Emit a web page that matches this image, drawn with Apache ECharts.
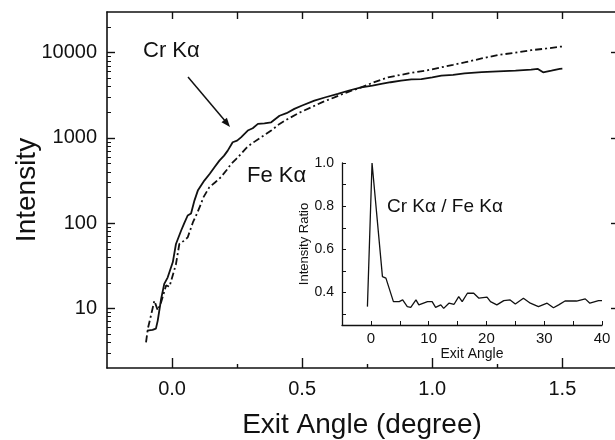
<!DOCTYPE html>
<html>
<head>
<meta charset="utf-8">
<title>Exit angle intensity</title>
<script src="https://cdn.jsdelivr.net/npm/echarts@6.0.0/dist/echarts.min.js"></script>
<style>
    html, body { margin: 0; padding: 0; background: #fff; }
    #chart { width: 615px; height: 440px; }
</style>
</head>
<body>
<div id="chart"></div>
<script>
// Cr K-alpha intensity vs exit angle (solid)
var crAngle = [-0.096, -0.075, -0.062, -0.055, -0.042, -0.03, -0.017, 0.003, 0.015, 0.035,
    0.047, 0.06, 0.073, 0.086, 0.099, 0.124, 0.145, 0.163, 0.182, 0.2,
    0.214, 0.233, 0.25, 0.265, 0.291, 0.31, 0.33, 0.355, 0.381, 0.413,
    0.44, 0.47, 0.5, 0.547, 0.59, 0.637, 0.68, 0.727, 0.77, 0.804,
    0.84, 0.88, 0.92, 0.958, 1.0, 1.035, 1.08, 1.124, 1.19, 1.253,
    1.32, 1.38, 1.406, 1.426, 1.458, 1.49, 1.5];
var crIntensity = [5.5, 5.6, 5.8, 7.2, 12.9, 19.4, 23, 35, 57, 82,
    100, 123, 130, 184, 241, 316, 380, 452, 542, 620,
    710, 890, 930, 1016, 1220, 1300, 1460, 1480, 1525, 1820,
    1950, 2190, 2400, 2740, 3000, 3280, 3600, 3920, 4100, 4300,
    4500, 4700, 4850, 4900, 5130, 5370, 5500, 5720, 5900, 6030,
    6150, 6310, 6450, 5890, 6150, 6450, 6500];

// Fe K-alpha intensity vs exit angle (dash-dot)
var feAngle = [-0.1, -0.093, -0.08, -0.068, -0.055, -0.042, -0.023, -0.01, 0.015, 0.028,
    0.045, 0.06, 0.08, 0.095, 0.111, 0.12, 0.143, 0.165, 0.188, 0.21,
    0.227, 0.245, 0.265, 0.285, 0.304, 0.342, 0.381, 0.413, 0.445, 0.49,
    0.535, 0.58, 0.624, 0.675, 0.727, 0.78, 0.83, 0.88, 0.932, 0.98,
    1.035, 1.08, 1.124, 1.19, 1.253, 1.32, 1.38, 1.44, 1.49, 1.5];
var feIntensity = [4.0, 5.8, 8.5, 12.3, 9.5, 11.8, 18.6, 18, 33, 57,
    62, 68, 102, 128, 168, 200, 263, 300, 347, 420,
    496, 560, 650, 760, 850, 1016, 1220, 1460, 1670, 1980,
    2290, 2650, 2990, 3450, 3920, 4550, 5130, 5500, 5890, 6200,
    6730, 7200, 7700, 8550, 9400, 10000, 10700, 11200, 11760, 11800];

// inset: Cr/Fe ratio
var ratioAngle = [-0.6, 0.2, 2.0, 2.6, 3.9, 4.9, 5.5, 6.3, 6.9, 7.8,
    8.3, 9.8, 10.6, 11.2, 12.1, 12.6, 13.5, 14.4, 15.2, 15.8,
    16.7, 17.8, 18.7, 20.1, 20.7, 21.8, 23.0, 24.1, 25.0, 26.4,
    27.6, 29.0, 30.5, 31.6, 32.5, 33.6, 35.6, 37.1, 37.9, 39.4, 40.0];
var ratioValue = [0.335, 1.0, 0.474, 0.467, 0.358, 0.358, 0.366, 0.335, 0.332, 0.366,
    0.343, 0.358, 0.358, 0.332, 0.343, 0.327, 0.351, 0.346, 0.381, 0.358,
    0.397, 0.397, 0.374, 0.379, 0.358, 0.343, 0.363, 0.366, 0.347, 0.374,
    0.351, 0.335, 0.351, 0.33, 0.343, 0.361, 0.361, 0.371, 0.351, 0.363, 0.363];

// tick values
var xMajorTicks = [0, 0.5, 1.0, 1.5];
var xMinorTicks = [0.25, 0.75, 1.25];
var xTopTicks = [0, 0.25, 0.5, 0.75, 1.0, 1.25, 1.5];
var yTickLabels = [10, 100, 1000, 10000];
var yMinorTicks = [3, 4, 5, 6, 7, 8, 9, 20, 30, 40, 50, 60, 70, 80, 90,
    200, 300, 400, 500, 600, 700, 800, 900, 2000, 3000, 4000, 5000, 6000, 7000, 8000, 9000, 20000];
var insetXLabels = [0, 10, 20, 30, 40];
var insetYLabels = [0.4, 0.6, 0.8, 1.0];
var insetYTicks = [0.3, 0.4, 0.5, 0.6, 0.7, 0.8, 0.9, 1.0];

var FONT = "'Liberation Sans', Arial, sans-serif";
var INK = '#111';

function log10All(arr) {
    var out = [];
    for (var i = 0; i < arr.length; i++) {
        out.push(Math.log10(arr[i]));
    }
    return out;
}

function pairs(xs, ys) {
    var out = [];
    for (var i = 0; i < xs.length; i++) {
        out.push([xs[i], ys[i]]);
    }
    return out;
}

function hiddenAxisBase(extra) {
    var o = {
        type: 'value',
        axisLine: {show: false, onZero: false},
        axisLabel: {show: false},
        splitLine: {show: false}
    };
    for (var k in extra) o[k] = extra[k];
    return o;
}

var yMin = Math.log10(2), yMax = Math.log10(30000);
var xMin = -0.25, xMax = 1.71;

var chart = echarts.init(document.getElementById('chart'), null, {renderer: 'canvas'});

var option = {
    animation: false,
    backgroundColor: '#fff',
    textStyle: {fontFamily: FONT, color: INK},
    grid: [
        {left: 107, top: 12, right: -2, bottom: 72, outerBoundsMode: 'none', containLabel: false},
        {left: 342, top: 163, right: 13, bottom: 115, outerBoundsMode: 'none', containLabel: false}
    ],
    xAxis: [
        {   // main bottom, labels + major ticks
            type: 'value', gridIndex: 0, position: 'bottom', min: xMin, max: xMax,
            axisLine: {show: true, onZero: false, lineStyle: {color: INK, width: 1.6}},
            axisTick: {inside: true, length: 10, customValues: xMajorTicks, lineStyle: {color: INK, width: 1.4}},
            axisLabel: {customValues: xMajorTicks, margin: 11, fontSize: 20, fontFamily: FONT, color: INK,
                formatter: function (v) { return v.toFixed(1); }},
            splitLine: {show: false},
            name: 'Exit Angle (degree)', nameLocation: 'middle', nameGap: 43,
            nameTextStyle: {fontSize: 28, fontFamily: FONT, color: INK}
        },
        hiddenAxisBase({   // main bottom minor ticks
            gridIndex: 0, position: 'bottom', min: xMin, max: xMax,
            axisTick: {inside: true, length: 4, customValues: xMinorTicks, lineStyle: {color: INK, width: 1.4}}
        }),
        {   // main top frame
            type: 'value', gridIndex: 0, position: 'top', min: xMin, max: xMax,
            axisLine: {show: true, onZero: false, lineStyle: {color: INK, width: 1.6}},
            axisTick: {inside: true, length: 7, customValues: xTopTicks, lineStyle: {color: INK, width: 1.4}},
            axisLabel: {show: false},
            splitLine: {show: false}
        },
        {   // inset x
            type: 'value', gridIndex: 1, position: 'bottom', min: -5, max: 40, interval: 5,
            axisLine: {show: true, onZero: false, lineStyle: {color: INK, width: 1.3}},
            axisTick: {inside: true, length: 4, lineStyle: {color: INK, width: 1}},
            axisLabel: {customValues: insetXLabels, margin: 6, fontSize: 15, fontFamily: FONT, color: INK},
            splitLine: {show: false},
            name: 'Exit Angle', nameLocation: 'middle', nameGap: 21,
            nameTextStyle: {fontSize: 14, fontFamily: FONT, color: INK}
        }
    ],
    yAxis: [
        {   // main left, decades
            type: 'value', gridIndex: 0, position: 'left', min: yMin, max: yMax,
            axisLine: {show: true, onZero: false, lineStyle: {color: INK, width: 1.6}},
            axisTick: {inside: true, length: 8, customValues: log10All(yTickLabels), lineStyle: {color: INK, width: 1.4}},
            axisLabel: {customValues: log10All(yTickLabels), margin: 10, fontSize: 20, fontFamily: FONT, color: INK,
                formatter: function (v) { return String(Math.round(Math.pow(10, v))); }},
            splitLine: {show: false},
            name: 'Intensity', nameLocation: 'middle', nameGap: 66, nameRotate: 90, nameMoveOverlap: false,
            nameTextStyle: {fontSize: 28, fontFamily: FONT, color: INK}
        },
        hiddenAxisBase({   // main left minor ticks
            gridIndex: 0, position: 'left', min: yMin, max: yMax,
            axisTick: {inside: true, length: 4, customValues: log10All(yMinorTicks), lineStyle: {color: INK, width: 1}}
        }),
        {   // main right frame
            type: 'value', gridIndex: 0, position: 'right', min: yMin, max: yMax,
            axisLine: {show: true, onZero: false, lineStyle: {color: INK, width: 1.6}},
            axisTick: {inside: true, length: 6, customValues: log10All(yTickLabels), lineStyle: {color: INK, width: 1.4}},
            axisLabel: {show: false},
            splitLine: {show: false}
        },
        {   // inset y
            type: 'value', gridIndex: 1, position: 'left', min: 0.25, max: 1.0,
            axisLine: {show: true, onZero: false, lineStyle: {color: INK, width: 1.3}},
            axisTick: {inside: true, length: 4, customValues: insetYTicks, lineStyle: {color: INK, width: 1}},
            axisLabel: {customValues: insetYLabels, margin: 8, fontSize: 14, fontFamily: FONT, color: INK,
                formatter: function (v) { return v.toFixed(1); }},
            splitLine: {show: false},
            name: 'Intensity Ratio', nameLocation: 'middle', nameGap: 31, nameRotate: 90,
            nameTextStyle: {fontSize: 13, fontFamily: FONT, color: INK}
        }
    ],
    series: [
        {
            name: 'Cr Kα', type: 'line', xAxisIndex: 0, yAxisIndex: 0,
            showSymbol: false, smooth: false,
            lineStyle: {color: INK, width: 1.8},
            data: pairs(crAngle, log10All(crIntensity))
        },
        {
            name: 'Fe Kα', type: 'line', xAxisIndex: 0, yAxisIndex: 0,
            showSymbol: false, smooth: false,
            lineStyle: {color: INK, width: 1.8, type: [7, 3, 2, 3]},
            data: pairs(feAngle, log10All(feIntensity))
        },
        {
            name: 'Ratio', type: 'line', xAxisIndex: 3, yAxisIndex: 3,
            showSymbol: false, smooth: false,
            lineStyle: {color: INK, width: 1.3},
            data: pairs(ratioAngle, ratioValue)
        }
    ],
    graphic: [
        {type: 'text', left: 143, top: 40, style: {text: 'Cr Kα', font: '22px ' + FONT, fill: INK}},
        {type: 'text', left: 247, top: 165, style: {text: 'Fe Kα', font: '22px ' + FONT, fill: INK}},
        {type: 'text', left: 387, top: 197, style: {text: 'Cr Kα / Fe Kα', font: '19px ' + FONT, fill: INK}},
        // arrow pointing to the Cr curve
        {type: 'line', shape: {x1: 188, y1: 77, x2: 226, y2: 122}, style: {stroke: INK, lineWidth: 1.5}},
        {type: 'polygon', shape: {points: [[230, 127], [221.5, 122.3], [226.9, 117.8]]}, style: {fill: INK}}
    ]
};

chart.setOption(option);
</script>
</body>
</html>
